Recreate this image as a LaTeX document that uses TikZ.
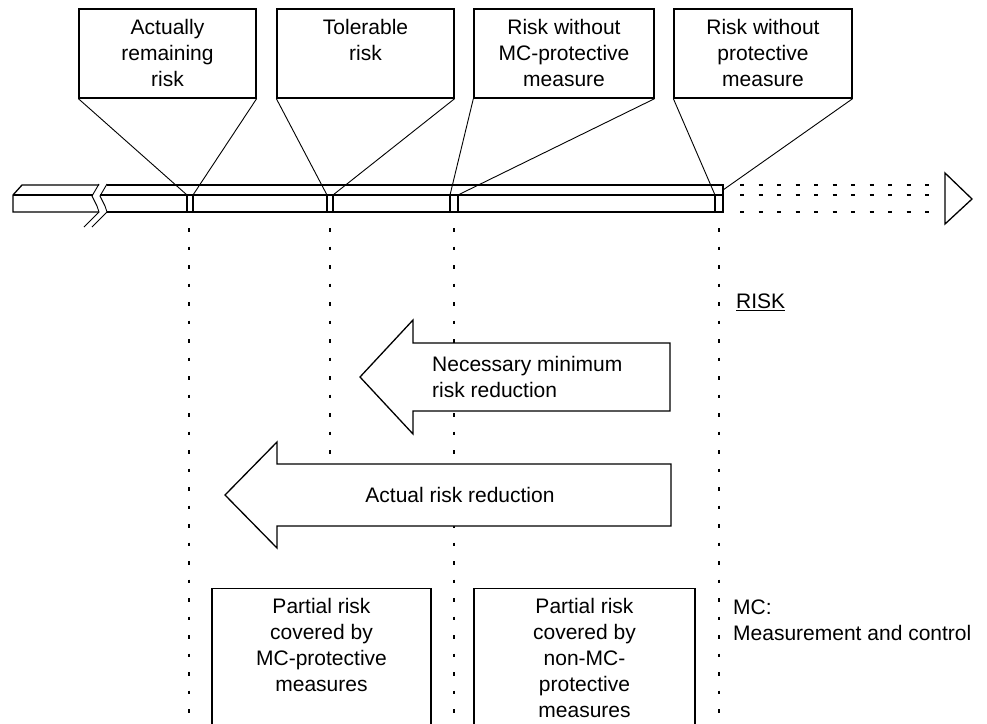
\documentclass[tikz,border=0pt]{standalone}
\usepackage{fontspec}
\setmainfont{Liberation Sans}
\begin{document}
\begin{tikzpicture}[x=1pt,y=-1pt,
  box/.style={draw, line width=1.3pt, inner sep=0pt},
  txt/.style={font=\fontsize{21}{26}\selectfont, align=center, inner sep=0pt},
  conn/.style={line width=0.9pt},
  bar/.style={line width=1.3pt},
  vdots/.style={line width=1.8pt, dash pattern=on 3.5pt off 15pt},
  hdots/.style={line width=2pt, dash pattern=on 4pt off 14.5pt},
  bigarrow/.style={draw, fill=white, line width=1.3pt, line join=miter}
]
\useasboundingbox (0,0) rectangle (987,723);

% top boxes
\node[box, minimum width=177pt, minimum height=89pt] (b1) at (167.5,53.5) {};
\node[box, minimum width=177pt, minimum height=89pt] (b2) at (365.5,53.5) {};
\node[box, minimum width=180pt, minimum height=89pt] (b3) at (564,53.5) {};
\node[box, minimum width=178pt, minimum height=89pt] (b4) at (763,53.5) {};
\node[txt, anchor=north, yshift=-11pt] (t1) at (b1.north) {Actually\\remaining\\risk};
\node[txt, anchor=north, yshift=-11pt] (t2) at (b2.north) {Tolerable\\risk};
\node[txt, anchor=north, yshift=-11pt] (t3) at (b3.north) {Risk without\\MC-protective\\measure};
\node[txt, anchor=north, yshift=-11pt] (t4) at (b4.north) {Risk without\\protective\\measure};

% marker coordinates
\coordinate (m1l) at (187,195); \coordinate (m1r) at (193,195);
\coordinate (m2l) at (327,195); \coordinate (m2r) at (333,195);
\coordinate (m3l) at (450,195); \coordinate (m3r) at (458,195);
\coordinate (m4l) at (715,195); \coordinate (m4r) at (723,190);

% vertical dotted lines
\draw[vdots] (189,228) -- (189,723);
\draw[vdots] (330,228) -- (330,455);
\draw[vdots] (454,228) -- (454,723);
\draw[vdots] (719,228) -- (719,723);

% bar, left segment
\draw[bar] (99,212) -- (13,212) -- (13,195) -- (22,185) -- (99,185);
\draw[bar] (13,195) -- (93,195);
% break
\draw[conn] (99,184) -- (92,196) -- (97,206) -- (99,212) -- (84,227);
\draw[conn] (107,184) -- (100,196) -- (105,206) -- (107,212) -- (92,227);
% bar, right segment
\draw[bar] (107,185) -- (723,185) -- (723,212) -- (107,212);
\draw[bar] (100,195) -- (723,195);
\foreach \x in {187,193,327,333,450,458,715} \draw[bar] (\x,195) -- (\x,212);

% dotted continuation and arrowhead
\draw[hdots] (740,185) -- (930,185);
\draw[hdots] (740,195) -- (930,195);
\draw[hdots] (740,212) -- (930,212);
\draw[bar] (945,173) -- (972,199) -- (945,224) -- cycle;

% connectors
\draw[conn] (b1.south west) -- (m1l);
\draw[conn] (b1.south east) -- (m1r);
\draw[conn] (b2.south west) -- (m2l);
\draw[conn] (b2.south east) -- (m2r);
\draw[conn] (b3.south west) -- (m3l);
\draw[conn] (b3.south east) -- (m3r);
\draw[conn] (b4.south west) -- (m4l);
\draw[conn] (b4.south east) -- (m4r);

% RISK label
\node[txt, anchor=west] (risk) at (736,302) {\underline{RISK}};

% arrows
\draw[bigarrow] (670,343) -- (413,343) -- (413,320) -- (360,377) -- (413,434) -- (413,411) -- (670,411) -- cycle;
\node[txt, anchor=west, align=left] (nmr) at (432,377) {Necessary minimum\\risk reduction};
\draw[bigarrow] (671,464) -- (277,464) -- (277,442) -- (225,495) -- (277,548) -- (277,526) -- (671,526) -- cycle;
\node[txt] (arr) at (460,495) {Actual risk reduction};

% bottom boxes
\node[box, minimum width=219pt, minimum height=160pt, anchor=north] (p1) at (321.5,588) {};
\node[box, minimum width=221pt, minimum height=160pt, anchor=north] (p2) at (584.5,588) {};
\node[txt, anchor=north, yshift=-10pt] (pt1) at (p1.north) {Partial risk\\covered by\\MC-protective\\measures};
\node[txt, anchor=north, yshift=-10pt] (pt2) at (p2.north) {Partial risk\\covered by\\non-MC-\\protective\\measures};

% legend
\node[txt, anchor=north west, align=left] (mc) at (733,600) {MC:\\Measurement and control};
\end{tikzpicture}
\end{document}
